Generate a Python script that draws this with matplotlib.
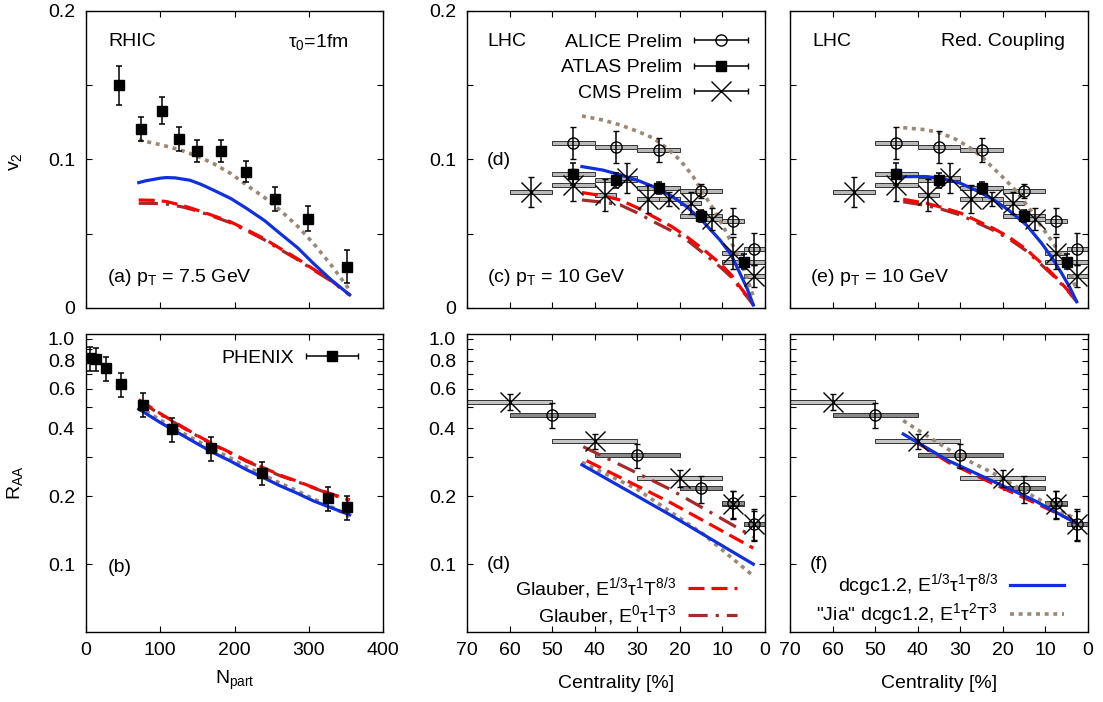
import numpy as np
import matplotlib
matplotlib.use('Agg')
import matplotlib.pyplot as plt
from matplotlib.container import ErrorbarContainer
from matplotlib.legend_handler import HandlerErrorbar
from matplotlib.ticker import NullLocator

plt.rcParams['font.family'] = ['Liberation Sans', 'DejaVu Sans']
plt.rcParams['mathtext.fontset'] = 'custom'
plt.rcParams['mathtext.rm'] = 'Liberation Sans'
plt.rcParams['mathtext.it'] = 'Liberation Sans:italic'
plt.rcParams['font.size'] = 14

FS = 14
RED = '#ff0000'
BROWN = '#a52a2a'
BLUE = '#1030e0'
GRAY = '#998877'

# ---- RHIC (PHENIX) data ----
phx_v2_npart = [45, 74, 102, 125, 150, 182, 215, 254.5, 299, 351]
phx_v2 = [0.150, 0.1207, 0.1329, 0.114, 0.1059, 0.1059, 0.0918, 0.0736, 0.0601, 0.0278]
phx_v2_err = [0.013, 0.008, 0.009, 0.008, 0.0075, 0.0075, 0.007, 0.008, 0.0085, 0.011]

phx_raa_npart = [5.4, 13.5, 26.5, 46.7, 76.3, 115.4, 168, 236.6, 325.5, 351]
phx_raa = [0.82, 0.815, 0.74, 0.627, 0.511, 0.398, 0.328, 0.255, 0.1965, 0.1785]
phx_raa_err = [0.1, 0.095, 0.09, 0.075, 0.063, 0.048, 0.04, 0.03, 0.024, 0.022]

# ---- RHIC model curves ----
a_blue_n = [71, 80, 90, 100, 108, 120, 140, 155, 171, 195, 216, 240, 261, 285, 306, 330, 355]
a_blue = [0.0844, 0.0856, 0.0865, 0.0874, 0.0878, 0.0876, 0.0860, 0.0832, 0.0795, 0.0737,
          0.0671, 0.0590, 0.0503, 0.0405, 0.0301, 0.0190, 0.0088]
a_gray_n = [71, 100, 127, 150, 171, 195, 216, 240, 261, 285, 306, 330, 355]
a_gray = [0.1131, 0.1100, 0.1064, 0.1022, 0.0974, 0.0905, 0.0828, 0.0745, 0.0660, 0.0550,
          0.0436, 0.0290, 0.0121]
a_red_n = [71, 90, 108, 130, 149, 170, 194, 215, 239, 260, 284, 305, 329, 355]
a_red = [0.0727, 0.0725, 0.0717, 0.0690, 0.0660, 0.0624, 0.0581, 0.0530, 0.0469, 0.0405,
         0.0334, 0.0265, 0.0189, 0.0088]
a_brown = [0.0705, 0.0704, 0.0700, 0.0680, 0.0655, 0.0618, 0.0575, 0.0524, 0.0462, 0.0398,
           0.0328, 0.0260, 0.0185, 0.0088]

b_n = [71, 100, 127, 150, 171, 195, 216, 240, 261, 285, 306, 330, 355]
b_blue = [0.488, 0.425, 0.378, 0.342, 0.313, 0.286, 0.2625, 0.241, 0.2229, 0.206, 0.191, 0.178, 0.1656]
b_gray = [0.500, 0.436, 0.387, 0.352, 0.324, 0.295, 0.270, 0.248, 0.229, 0.211, 0.195, 0.180, 0.163]
b_red = [0.537, 0.466, 0.412, 0.372, 0.341, 0.312, 0.288, 0.267, 0.2487, 0.233, 0.219, 0.205, 0.193]
b_brown = [0.532, 0.462, 0.410, 0.370, 0.339, 0.310, 0.286, 0.265, 0.247, 0.232, 0.218, 0.204, 0.192]

# ---- LHC v2 data (centrality %, bin half width) ----
alice_v2_c = [45, 35, 25, 15, 7.5, 2.5]
alice_v2_hw = [5, 5, 5, 5, 2.5, 2.5]
alice_v2 = [0.111, 0.1086, 0.1064, 0.0788, 0.0586, 0.0395]
alice_v2_err = [0.0107, 0.0107, 0.008, 0.005, 0.009, 0.0107]

atlas_v2_c = [45, 35, 25, 15, 5]
atlas_v2_hw = [5, 5, 5, 5, 5]
atlas_v2 = [0.0902, 0.086, 0.081, 0.062, 0.0312]
atlas_v2_err = [0.0073, 0.005, 0.004, 0.004, 0.005]

cms_v2_c = [55, 45, 37.5, 32.5, 27.5, 22.5, 17.5, 12.5, 7.5, 2.5]
cms_v2_hw = [5, 5, 2.5, 2.5, 2.5, 2.5, 2.5, 2.5, 2.5, 2.5]
cms_v2 = [0.0779, 0.0828, 0.0761, 0.0873, 0.0732, 0.0734, 0.0705, 0.0597, 0.0368, 0.0215]
cms_v2_err = [0.010, 0.011, 0.011, 0.010, 0.0095, 0.005, 0.0073, 0.0073, 0.0107, 0.0076]

# ---- LHC RAA data ----
cms_raa_c = [60, 40, 20, 7.5, 2.5]
cms_raa_hw = [10, 10, 10, 2.5, 2.5]
cms_raa = [0.526, 0.351, 0.241, 0.185, 0.1506]
cms_raa_err = [0.043, 0.027, 0.02, 0.026, 0.022]

alice_raa_c = [50, 30, 15, 7.5, 2.5]
alice_raa_hw = [10, 10, 5, 2.5, 2.5]
alice_raa = [0.46, 0.305, 0.217, 0.186, 0.151]
alice_raa_err = [0.06, 0.038, 0.03, 0.026, 0.024]

# ---- LHC model curves ----
c_cent = [43, 38, 34, 30, 26.2, 22, 18.4, 14.5, 10.6, 8, 5.9, 4.2, 2.75]
c_blue = [0.0952, 0.0928, 0.0896, 0.0860, 0.0817, 0.0755, 0.0682, 0.0580, 0.0458, 0.0360,
          0.0234, 0.0130, 0.002]
c_red = [0.0777, 0.0755, 0.0727, 0.0675, 0.0615, 0.0550, 0.0480, 0.0395, 0.0301, 0.0225,
         0.0143, 0.0080, 0.002]
c_brown = [0.0727, 0.0712, 0.0694, 0.0640, 0.0581, 0.0520, 0.0458, 0.0370, 0.0278, 0.0210,
           0.0133, 0.0075, 0.002]
c_gray_cent = [43, 38, 34, 30, 26.2, 23, 20, 17, 14.5, 12, 9.8, 7.8, 5.9, 4.2, 2.75]
c_gray = [0.1293, 0.1265, 0.1232, 0.1190, 0.1143, 0.1075, 0.0997, 0.0890, 0.0772, 0.0660,
          0.0548, 0.0435, 0.0323, 0.0200, 0.0076]

e_cent = [43.4, 38, 34.4, 30, 26.5, 22.5, 18.7, 14.5, 10.9, 8.5, 6.2, 4.3, 2.65]
e_blue = [0.0884, 0.0885, 0.0873, 0.0840, 0.0795, 0.0735, 0.0660, 0.0560, 0.0436, 0.0340,
          0.0234, 0.0140, 0.0042]
e_red = [0.0732, 0.0705, 0.0678, 0.0640, 0.0593, 0.0540, 0.0480, 0.0395, 0.0301, 0.0235,
         0.0166, 0.0105, 0.0042]
e_brown = [0.0715, 0.0690, 0.0665, 0.0626, 0.0580, 0.0527, 0.0468, 0.0385, 0.0290, 0.0226,
           0.0160, 0.0100, 0.0042]
e_gray_cent = [43.4, 38, 34.4, 31, 28.1, 25, 22.6, 20, 17.1, 14, 10.9, 8.5, 6.2, 4.3, 2.65]
e_gray = [0.1214, 0.1200, 0.1176, 0.1135, 0.1086, 0.1020, 0.0952, 0.0880, 0.0795, 0.0680,
          0.0548, 0.0450, 0.0346, 0.0240, 0.0121]

d_blue_cent = [43, 22.3, 2.75]
d_blue = [0.276, 0.1656, 0.100]
d_gray_cent = [43, 30.1, 14.5, 2.75]
d_gray = [0.283, 0.2154, 0.136, 0.0887]
d_red_cent = [41.9, 22.3, 2.75]
d_red = [0.288, 0.188, 0.1178]
d_brown_cent = [42.7, 22.3, 2.75]
d_brown = [0.332, 0.215, 0.1322]

f_blue_cent = [43.4, 32.8, 22.6, 12.45, 2.65]
f_blue = [0.378, 0.288, 0.2346, 0.191, 0.1515]
f_red_cent = [40, 32.8, 22.6, 12.45, 2.65]
f_red = [0.345, 0.283, 0.229, 0.187, 0.153]
f_gray_cent = [43.4, 30.5, 22.6, 12.45, 2.65]
f_gray = [0.4335, 0.303, 0.2554, 0.198, 0.158]

label_red = r'Glauber, E$^{1/3}$τ$^{1}$T$^{8/3}$'
label_brown = r'Glauber, E$^{0}$τ$^{1}$T$^{3}$'
label_blue = r'dcgc1.2, E$^{1/3}$τ$^{1}$T$^{8/3}$'
label_gray = r'"Jia" dcgc1.2, E$^{1}$τ$^{2}$T$^{3}$'

fig = plt.figure(figsize=(11.03, 7.02), dpi=100)
col_x = [0.0780, 0.4234, 0.7162]
col_w = [0.2693, 0.2702, 0.2702]
ax_a = fig.add_axes([col_x[0], 0.5613, col_w[0], 0.4231])
ax_b = fig.add_axes([col_x[0], 0.0997, col_w[0], 0.4245])
ax_c = fig.add_axes([col_x[1], 0.5613, col_w[1], 0.4231])
ax_d = fig.add_axes([col_x[1], 0.0997, col_w[1], 0.4245])
ax_e = fig.add_axes([col_x[2], 0.5613, col_w[2], 0.4231])
ax_f = fig.add_axes([col_x[2], 0.0997, col_w[2], 0.4245])


def style(ax):
    ax.tick_params(which='both', direction='in', top=True, right=True,
                   length=4.5, width=0.8, labelsize=FS)
    ax.tick_params(axis='x', pad=7)
    ax.tick_params(axis='y', pad=8)
    for s in ax.spines.values():
        s.set_linewidth(1.0)


def curve(ax, x, y, kind, label=None):
    if kind == 'blue':
        return ax.plot(x, y, color=BLUE, lw=2.3, zorder=3, label=label)[0]
    if kind == 'gray':
        return ax.plot(x, y, color=GRAY, lw=2.6, dashes=(1.1, 1.3), zorder=3, label=label)[0]
    if kind == 'red':
        return ax.plot(x, y, color=RED, lw=2.3, dashes=(5, 2.2), zorder=3, label=label)[0]
    return ax.plot(x, y, color=BROWN, lw=2.3, dashes=(6, 2.5, 1, 2.5), zorder=3, label=label)[0]


def bins(ax, cent, hw, val, dh, color, log=False):
    val = np.array(val)
    if log:
        lo, hi = val / (1 + dh), val * (1 + dh)
    else:
        lo, hi = val - dh, val + dh
    ax.bar(cent, hi - lo, width=2 * np.array(hw), bottom=lo, color=color,
           edgecolor='#333333', linewidth=0.7, zorder=2)


def points(ax, x, y, err, kind):
    kw = dict(ecolor='k', elinewidth=1.1, capsize=2.5, capthick=1.1, zorder=5, ls='none')
    if kind == 'alice':
        ax.errorbar(x, y, yerr=err, marker='o', ms=8, mfc='none', mec='k', mew=1.0, **kw)
    elif kind == 'cms':
        ax.errorbar(x, y, yerr=err, marker='x', ms=14, mec='k', mew=1.0, **kw)
    else:
        ax.errorbar(x, y, yerr=err, marker='s', ms=7, mfc='k', mec='k', **kw)


def legend_proxy(ax, kind):
    kw = dict(ecolor='k', elinewidth=1.1, capsize=2.5, ls='none')
    if kind == 'alice':
        return ax.errorbar([np.nan], [np.nan], xerr=[1.0], marker='o', ms=8, mfc='none', mec='k', **kw)
    if kind == 'cms':
        return ax.errorbar([np.nan], [np.nan], xerr=[1.0], marker='x', ms=14, mec='k', **kw)
    return ax.errorbar([np.nan], [np.nan], xerr=[1.0], marker='s', ms=7, mfc='k', mec='k', **kw)


for ax in [ax_a, ax_b, ax_c, ax_d, ax_e, ax_f]:
    style(ax)

# ---- (a) ----
ax = ax_a
curve(ax, a_gray_n, a_gray, 'gray')
curve(ax, a_red_n, a_brown, 'brown')
curve(ax, a_red_n, a_red, 'red')
curve(ax, a_blue_n, a_blue, 'blue')
points(ax, phx_v2_npart, phx_v2, phx_v2_err, 'phenix')
ax.set_xlim(0, 400)
ax.set_ylim(0, 0.2)
ax.set_xticks([0, 100, 200, 300, 400])
ax.set_yticks([0, 0.05, 0.1, 0.15, 0.2])
ax.set_yticklabels(['0', '', '0.1', '', '0.2'])
ax.tick_params(labelbottom=False)
ax.text(0.074, 0.896, 'RHIC', transform=ax.transAxes, va='center', ha='left')
ax.text(0.885, 0.896, r'τ$_0$=1fm', transform=ax.transAxes, va='center', ha='right')
ax.text(0.071, 0.104, r'(a) p$_{\rm T}$ = 7.5 GeV', transform=ax.transAxes, va='center', ha='left')

# ---- (b) ----
ax = ax_b
curve(ax, b_n, b_gray, 'gray')
curve(ax, b_n, b_blue, 'blue')
curve(ax, b_n, b_brown, 'brown')
curve(ax, b_n, b_red, 'red')
points(ax, phx_raa_npart, phx_raa, phx_raa_err, 'phenix')
ax.set_yscale('log')
ax.set_xlim(0, 400)
ax.set_ylim(0.05, 1.05)
ax.set_xticks([0, 100, 200, 300, 400])
ax.set_xlabel(r'N$_{\rm part}$', labelpad=7)
ax.text(0.074, 0.218, '(b)', transform=ax.transAxes, va='center', ha='left')
ax.legend([legend_proxy(ax, 'phenix')], ['PHENIX'], loc='upper right',
          bbox_to_anchor=(0.962, 0.995), frameon=False, markerfirst=False, numpoints=1,
          handlelength=2.7, handletextpad=0.6, borderpad=0.2, fontsize=FS,
          handler_map={ErrorbarContainer: HandlerErrorbar(xerr_size=1.35)})

log_ticks = [0.1, 0.2, 0.3, 0.4, 0.5, 0.6, 0.7, 0.8, 0.9, 1.0]
log_labels = ['0.1', '0.2', '', '0.4', '', '0.6', '', '0.8', '', '1.0']

# ---- (c) and (e) ----
for ax, curves in [(ax_c, (c_cent, c_blue, c_red, c_brown, c_gray_cent, c_gray)),
                   (ax_e, (e_cent, e_blue, e_red, e_brown, e_gray_cent, e_gray))]:
    cent, blue, red, brown, gcent, gray = curves
    bins(ax, alice_v2_c, alice_v2_hw, alice_v2, 0.0013, '#b8b8b8')
    bins(ax, atlas_v2_c, atlas_v2_hw, atlas_v2, 0.0013, '#b8b8b8')
    bins(ax, cms_v2_c, cms_v2_hw, cms_v2, 0.0013, '#b8b8b8')
    curve(ax, gcent, gray, 'gray')
    curve(ax, cent, brown, 'brown')
    curve(ax, cent, red, 'red')
    curve(ax, cent, blue, 'blue')
    points(ax, alice_v2_c, alice_v2, alice_v2_err, 'alice')
    points(ax, atlas_v2_c, atlas_v2, atlas_v2_err, 'atlas')
    points(ax, cms_v2_c, cms_v2, cms_v2_err, 'cms')
    ax.set_xlim(70, 0)
    ax.set_ylim(0, 0.2)
    ax.set_xticks(np.arange(0, 71, 10))
    ax.set_yticks([0, 0.05, 0.1, 0.15, 0.2])
    ax.set_yticklabels(['0', '', '0.1', '', '0.2'])
    ax.tick_params(labelbottom=False)

ax_e.tick_params(labelleft=False)
ax_c.text(0.067, 0.896, 'LHC', transform=ax_c.transAxes, va='center', ha='left')
ax_c.text(0.067, 0.498, '(d)', transform=ax_c.transAxes, va='center', ha='left')
ax_c.text(0.067, 0.104, r'(c) p$_{\rm T}$ = 10 GeV', transform=ax_c.transAxes, va='center', ha='left')
ax_e.text(0.074, 0.896, 'LHC', transform=ax_e.transAxes, va='center', ha='left')
ax_e.text(0.923, 0.896, 'Red. Coupling', transform=ax_e.transAxes, va='center', ha='right')
ax_e.text(0.067, 0.104, r'(e) p$_{\rm T}$ = 10 GeV', transform=ax_e.transAxes, va='center', ha='left')

ax_c.legend([legend_proxy(ax_c, 'alice'), legend_proxy(ax_c, 'atlas'), legend_proxy(ax_c, 'cms')],
            ['ALICE Prelim', 'ATLAS Prelim', 'CMS Prelim'],
            loc='upper right', bbox_to_anchor=(0.99, 0.97), frameon=False,
            markerfirst=False, numpoints=1, handlelength=2.8, handletextpad=0.6,
            labelspacing=0.4, borderpad=0.2, fontsize=FS,
            handler_map={ErrorbarContainer: HandlerErrorbar(xerr_size=1.4)})

# ---- (d) and (f) ----
for ax in [ax_d, ax_f]:
    bins(ax, cms_raa_c, cms_raa_hw, cms_raa, 0.02, '#c4c4c4', log=True)
    bins(ax, alice_raa_c, alice_raa_hw, alice_raa, 0.02, '#8a8a8a', log=True)
    ax.set_yscale('log')
    ax.set_xlim(70, 0)
    ax.set_ylim(0.05, 1.05)
    ax.set_xticks(np.arange(0, 71, 10))
    ax.set_xlabel('Centrality [%]', labelpad=12)

curve(ax_d, d_gray_cent, d_gray, 'gray')
curve(ax_d, d_blue_cent, d_blue, 'blue')
l_red = curve(ax_d, d_red_cent, d_red, 'red')
l_brown = curve(ax_d, d_brown_cent, d_brown, 'brown')
ax_d.text(0.067, 0.225, '(d)', transform=ax_d.transAxes, va='center', ha='left')
ax_d.legend([l_red, l_brown], [label_red, label_brown], loc='lower right',
            bbox_to_anchor=(0.95, -0.03), frameon=False, markerfirst=False,
            handlelength=2.5, handletextpad=0.6, labelspacing=0.1, borderpad=0.2, fontsize=FS)

l_gray = curve(ax_f, f_gray_cent, f_gray, 'gray')
curve(ax_f, f_red_cent, f_red, 'red')
l_blue = curve(ax_f, f_blue_cent, f_blue, 'blue')
ax_f.text(0.067, 0.225, '(f)', transform=ax_f.transAxes, va='center', ha='left')
ax_f.legend([l_blue, l_gray], [label_blue, label_gray], loc='lower right',
            bbox_to_anchor=(0.965, -0.03), frameon=False, markerfirst=False,
            handlelength=2.8, handletextpad=0.6, labelspacing=0.1, borderpad=0.2, fontsize=FS)

for ax in [ax_d, ax_f]:
    points(ax, cms_raa_c, cms_raa, cms_raa_err, 'cms')
    points(ax, alice_raa_c, alice_raa, alice_raa_err, 'alice')

for ax in [ax_b, ax_d, ax_f]:
    ax.set_yticks(log_ticks)
    ax.set_yticklabels(log_labels)
    ax.yaxis.set_minor_locator(NullLocator())
    ax.yaxis.set_minor_formatter(plt.NullFormatter())
ax_f.tick_params(labelleft=False)

fig.text(15 / 1103, 1 - 162 / 702, r'v$_2$', rotation=90, ha='center', va='center', fontsize=FS)
fig.text(15 / 1103, 1 - 483 / 702, r'R$_{\rm AA}$', rotation=90, ha='center', va='center', fontsize=FS)

fig.savefig('out.png', dpi=100)
